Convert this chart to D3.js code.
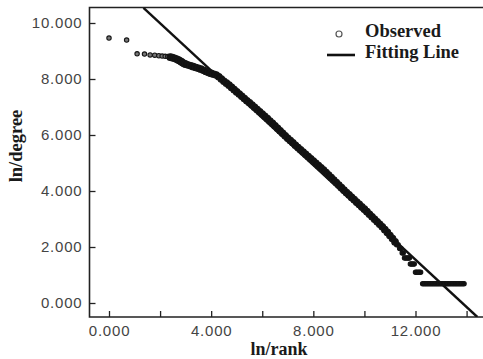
<!DOCTYPE html>
<html>
<head>
<meta charset="utf-8">
<script src="https://cdn.jsdelivr.net/npm/d3@7"></script>
<style>
  body { margin: 0; background: #fff; }
  .tick text { font-family: "Liberation Sans", Arial, sans-serif; font-size: 15px; fill: #444; letter-spacing: 0.8px; }
  .lab { font-family: "Liberation Serif", "Times New Roman", serif; font-weight: bold; fill: #1a1a1a; }
</style>
</head>
<body>
<script>
// ln(rank) vs ln(degree)
var observed = [
  [0, 9.46], [0.69, 9.39], [1.10, 8.90], [1.39, 8.89], [1.61, 8.86], [1.79, 8.85], [1.95, 8.83], [2.08, 8.82],
  [2.20, 8.81], [2.30, 8.80], [2.40, 8.78], [2.48, 8.76], [2.56, 8.74], [2.64, 8.71], [2.71, 8.68], [2.77, 8.65],
  [2.83, 8.62], [2.89, 8.58], [2.94, 8.55], [3.00, 8.53],
  [3.1, 8.50], [3.2, 8.47], [3.3, 8.44], [3.4, 8.41], [3.5, 8.38], [3.6, 8.35], [3.7, 8.31], [3.8, 8.27], [3.9, 8.23], [4.0, 8.20],
  [4.1, 8.17], [4.2, 8.14], [4.3, 8.08], [4.4, 8.00], [4.5, 7.92], [4.6, 7.85], [4.7, 7.78], [4.8, 7.70], [4.9, 7.62], [5.0, 7.54],
  [5.1, 7.46], [5.2, 7.38], [5.3, 7.30], [5.4, 7.22], [5.5, 7.15], [5.6, 7.07], [5.7, 6.99], [5.8, 6.91], [5.9, 6.83], [6.0, 6.75],
  [6.1, 6.67], [6.2, 6.59], [6.3, 6.50], [6.4, 6.42], [6.5, 6.33], [6.6, 6.24], [6.7, 6.15], [6.8, 6.06], [6.9, 5.97], [7.0, 5.88],
  [7.1, 5.80], [7.2, 5.72], [7.3, 5.63], [7.4, 5.55], [7.5, 5.47], [7.6, 5.39], [7.7, 5.31], [7.8, 5.23], [7.9, 5.15], [8.0, 5.07],
  [8.1, 4.99], [8.2, 4.91], [8.3, 4.83], [8.4, 4.75], [8.5, 4.66], [8.6, 4.57], [8.7, 4.48], [8.8, 4.39], [8.9, 4.30], [9.0, 4.21],
  [9.1, 4.12], [9.2, 4.03], [9.3, 3.94], [9.4, 3.86], [9.5, 3.77], [9.6, 3.69], [9.7, 3.60], [9.8, 3.52], [9.9, 3.43], [10.0, 3.35],
  [10.1, 3.26], [10.2, 3.17], [10.3, 3.08], [10.4, 2.99], [10.5, 2.90], [10.6, 2.81], [10.7, 2.72], [10.8, 2.62], [10.9, 2.52], [11.0, 2.41],
  [11.1, 2.30], [11.2, 2.18], [11.26, 2.08], [11.32, 2.08], [11.38, 1.95], [11.43, 1.95], [11.48, 1.79], [11.52, 1.79],
  [11.57, 1.61], [11.62, 1.61], [11.67, 1.61], [11.72, 1.61], [11.76, 1.61],
  [11.80, 1.39], [11.85, 1.39], [11.90, 1.39], [11.95, 1.39],
  [12.00, 1.10], [12.05, 1.10], [12.10, 1.10], [12.15, 1.10], [12.20, 1.10],
  [12.28, 0.69], [12.34, 0.69], [12.40, 0.69], [12.46, 0.69], [12.52, 0.69], [12.58, 0.69], [12.64, 0.69],
  [12.70, 0.69], [12.76, 0.69], [12.82, 0.69], [12.88, 0.69], [12.94, 0.69], [13.00, 0.69], [13.06, 0.69],
  [13.12, 0.69], [13.18, 0.69], [13.24, 0.69], [13.30, 0.69], [13.36, 0.69], [13.42, 0.69], [13.48, 0.69],
  [13.54, 0.69], [13.60, 0.69], [13.66, 0.69], [13.72, 0.69], [13.78, 0.69], [13.84, 0.69], [13.90, 0.69]
];

// fitting line end points
var fitLine = [[1.35, 10.54], [14.42, -0.5]];

var xTicks = [0, 2, 4, 6, 8, 10, 12, 14];
var yTicks = [0, 2, 4, 6, 8, 10];
var legendLabels = ["Observed", "Fitting Line"];

var W = 483, H = 359;
var frame = {left: 89.5, top: 7.5, right: 486, bottom: 317};

var svg = d3.select("body").append("svg")
    .attr("width", W)
    .attr("height", H);

var x = d3.scaleLinear().domain([0, 12]).range([109, 415.5]);
var y = d3.scaleLinear().domain([0, 10]).range([303, 23]);

svg.append("clipPath").attr("id", "plot")
  .append("rect")
    .attr("x", frame.left).attr("y", frame.top)
    .attr("width", frame.right - frame.left)
    .attr("height", frame.bottom - frame.top);

// axes, ticks point inwards
var xAxis = d3.axisBottom(x)
    .tickValues(xTicks)
    .tickSizeInner(-6).tickSizeOuter(0).tickPadding(8)
    .tickFormat(function(d) { return d % 4 === 0 ? d3.format(".3f")(d) : ""; });

var yAxis = d3.axisLeft(y)
    .tickValues(yTicks)
    .tickSizeInner(-6).tickSizeOuter(0).tickPadding(7)
    .tickFormat(d3.format(".3f"));

svg.append("g")
    .attr("transform", "translate(0," + frame.bottom + ")")
    .call(xAxis);
svg.append("g")
    .attr("transform", "translate(" + frame.left + ",0)")
    .call(yAxis);

svg.selectAll(".domain").remove();
svg.selectAll(".tick line").attr("stroke", "#222").attr("stroke-width", 1.3);

// frame: top, left, bottom (no right side)
svg.append("path")
    .attr("d", "M" + frame.right + "," + frame.top + "H" + frame.left + "V" + frame.bottom + "H" + frame.right)
    .attr("fill", "none")
    .attr("stroke", "#222")
    .attr("stroke-width", 1.6);

var plot = svg.append("g").attr("clip-path", "url(#plot)");

// fitting line
plot.append("path")
    .datum(fitLine)
    .attr("d", d3.line().x(function(d) { return x(d[0]); }).y(function(d) { return y(d[1]); }))
    .attr("fill", "none")
    .attr("stroke", "#111")
    .attr("stroke-width", 2.4);

// observed points: the few top ranks stand alone, the rest merge into a band
function isolated(d) { return d[0] < 2.35; }
function inBand(d) { return d[0] >= 2.35 && d[0] < 11.25; }

plot.selectAll("circle.obs")
    .data(observed)
  .enter().append("circle")
    .attr("class", "obs")
    .attr("cx", function(d) { return x(d[0]); })
    .attr("cy", function(d) { return y(d[1]); })
    .attr("r", function(d) { return inBand(d) ? 3.3 : 2.2; })
    .attr("fill", function(d) { return isolated(d) ? "#777" : "#111"; })
    .attr("stroke", "#151515")
    .attr("stroke-width", 1.1);

// legend
var legend = svg.append("g");
legend.append("circle")
    .attr("cx", 339).attr("cy", 34).attr("r", 3)
    .attr("fill", "none").attr("stroke", "#555").attr("stroke-width", 1.2);
legend.append("line")
    .attr("x1", 327).attr("x2", 355).attr("y1", 55).attr("y2", 55)
    .attr("stroke", "#111").attr("stroke-width", 2.6);
legend.selectAll("text")
    .data(legendLabels)
  .enter().append("text")
    .attr("class", "lab")
    .attr("x", 365)
    .attr("y", function(d, i) { return 36.5 + i * 21.5; })
    .style("font-size", "18.5px")
    .text(function(d) { return d; });

// axis titles
svg.append("text")
    .attr("class", "lab")
    .attr("x", 279).attr("y", 355)
    .attr("text-anchor", "middle")
    .style("font-size", "18px")
    .text("ln/rank");

svg.append("text")
    .attr("class", "lab")
    .attr("transform", "translate(22,146) rotate(-90)")
    .attr("text-anchor", "middle")
    .style("font-size", "18.5px")
    .text("ln/degree");
</script>
</body>
</html>
